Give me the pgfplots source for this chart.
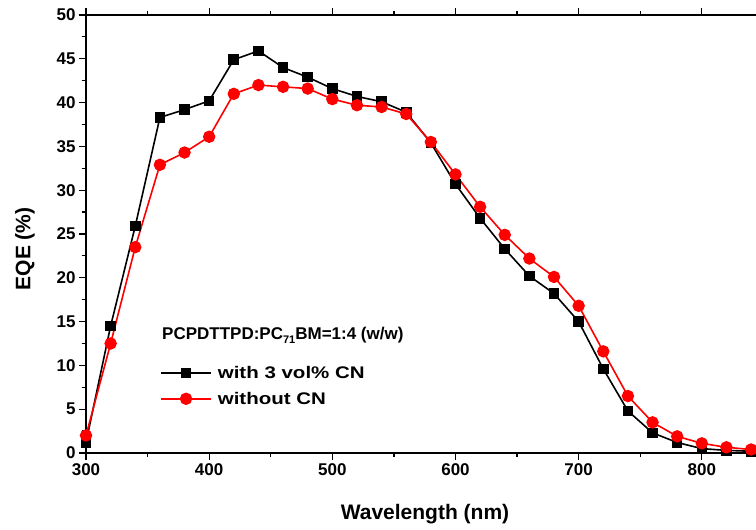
\documentclass[border=0pt]{standalone}
\usepackage{fontspec}
\setmainfont{Liberation Sans}
\usepackage{pgfplots}
\pgfplotsset{compat=1.18}
\usetikzlibrary{calc}
\newcommand{\lf}{\fontsize{17}{20}\selectfont\bfseries}
\newcommand{\legtxt}[1]{\scalebox{1.22}[1]{\fontsize{16.8}{20}\selectfont\bfseries #1}}

\begin{document}
\begin{tikzpicture}
\begin{axis}[
  name=ax,
  scale only axis,
  width=670pt, height=438pt,
  xmin=300, xmax=844, ymin=0, ymax=50,
  axis x line*=box, axis y line*=left,
  xtick={300,400,...,800}, ytick={0,5,...,50},
  minor x tick num=1, minor y tick num=1,
  tick align=outside,
  major tick length=7pt, minor tick length=4pt,
  tick style={black, line width=1.2pt},
  axis line style={line width=1.6pt},
  /pgf/number format/assume math mode=true,
  ticklabel style={font=\lf},
  xlabel={Wavelength (nm)}, ylabel={EQE (\%)},
  every axis x label/.style={at={(rel axis cs:0.506,0)}, anchor=base, yshift=-66pt, font=\fontsize{21}{24}\selectfont\bfseries},
  every axis y label/.style={at={(rel axis cs:0,0.466)}, anchor=center, rotate=90, yshift=61pt, font=\fontsize{21}{24}\selectfont\bfseries},
  legend style={draw=none, fill=none, at={(rel axis cs:0.1105,0.203)}, anchor=north west, font=\lf, row sep=8pt, inner sep=0pt,
    /tikz/every odd column/.style={column sep=4pt}},
  legend cell align=left,
  legend image code/.code={\draw[mark repeat=2,mark phase=2,#1] plot coordinates {(0pt,0pt) (25pt,0pt) (50pt,0pt)};},
]
\addplot[black, line width=1.6pt, mark=square*, mark size=4.5pt, mark options={solid}] coordinates {
(300,1.2)(320,14.5)(340,25.9)(360,38.3)(380,39.2)(400,40.2)(420,44.9)(440,45.9)(460,44.0)(480,42.9)(500,41.6)(520,40.7)(540,40.1)(560,38.9)(580,35.4)(600,30.7)(620,26.8)(640,23.3)(660,20.2)(680,18.2)(700,15.0)(720,9.6)(740,4.8)(760,2.3)(780,1.2)(800,0.5)(820,0.3)(840,0.2)
};
\addlegendentry{\legtxt{with 3 vol\% CN}}
\addplot[red, line width=1.6pt, mark=*, mark size=5.4pt, mark options={solid}] coordinates {
(300,2.0)(320,12.5)(340,23.5)(360,32.9)(380,34.3)(400,36.1)(420,41.0)(440,42.0)(460,41.8)(480,41.6)(500,40.4)(520,39.7)(540,39.5)(560,38.7)(580,35.5)(600,31.8)(620,28.1)(640,24.9)(660,22.2)(680,20.1)(700,16.8)(720,11.6)(740,6.5)(760,3.5)(780,1.9)(800,1.1)(820,0.65)(840,0.4)
};
\addlegendentry{\legtxt{without CN}}
\node[anchor=base west, inner sep=0pt, font=\lf] at (axis cs:361.7,13.0) {PCPDTTPD:PC\raisebox{-0.45ex}{\fontsize{11}{12}\selectfont 71}BM=1:4 (w/w)};
\end{axis}
\pgfresetboundingbox
\useasboundingbox ($(ax.south west)+(-86pt,-76pt)$) rectangle ($(ax.north east)+(0pt,15pt)$);
\end{tikzpicture}
\end{document}
